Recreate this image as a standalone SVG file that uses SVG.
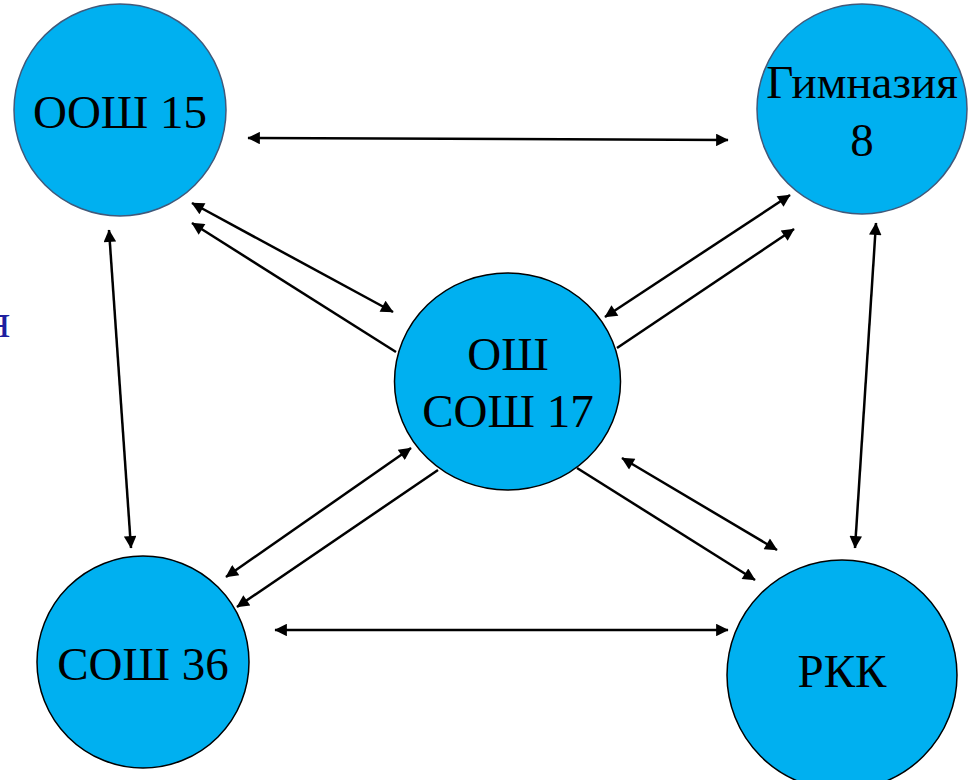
<svg xmlns="http://www.w3.org/2000/svg" width="968" height="780" viewBox="0 0 968 780">
<style>
.node{fill:#00b0f0;stroke:#000;stroke-width:1.5}
.node.blue{stroke:#41597a}
.lbl{font-family:"Liberation Serif","Times New Roman",serif;font-size:47px;fill:#000;text-anchor:middle}
.con line{stroke:#000;stroke-width:2.5;fill:none}
</style>
<defs>
<marker id="ah" viewBox="0 0 10 10" refX="9.5" refY="5" markerWidth="6" markerHeight="5" orient="auto-start-reverse" markerUnits="strokeWidth">
<path d="M0,0 L10,5 L0,10 Z" fill="#000"/>
</marker>
</defs>
<rect width="968" height="780" fill="#fff"/>
<text x="10" y="337" font-family="Liberation Serif, serif" font-size="48" fill="#1f1fa0" text-anchor="end">я</text>
<g class="con">
<line x1="248" y1="138" x2="728" y2="140" marker-start="url(#ah)" marker-end="url(#ah)"/>
<line x1="275" y1="630" x2="728" y2="630" marker-start="url(#ah)" marker-end="url(#ah)"/>
<line x1="109" y1="230" x2="131" y2="548" marker-start="url(#ah)" marker-end="url(#ah)"/>
<line x1="876" y1="223" x2="855" y2="548" marker-start="url(#ah)" marker-end="url(#ah)"/>
<line x1="192" y1="203" x2="393" y2="312" marker-start="url(#ah)" marker-end="url(#ah)"/>
<line x1="396" y1="352" x2="192" y2="223" marker-end="url(#ah)"/>
<line x1="790" y1="195" x2="605" y2="317" marker-start="url(#ah)" marker-end="url(#ah)"/>
<line x1="617" y1="348" x2="794" y2="229" marker-end="url(#ah)"/>
<line x1="411" y1="448" x2="226" y2="577" marker-start="url(#ah)" marker-end="url(#ah)"/>
<line x1="438" y1="470" x2="237" y2="607" marker-end="url(#ah)"/>
<line x1="622" y1="458" x2="777" y2="550" marker-start="url(#ah)" marker-end="url(#ah)"/>
<line x1="577" y1="468" x2="755" y2="580" marker-end="url(#ah)"/>
</g>
<g id="oosh15">
<circle class="node blue" cx="120" cy="110" r="106"/>
<text class="lbl" x="120" y="128">ООШ 15</text>
</g>
<g id="gimn8">
<circle class="node blue" cx="862" cy="109" r="105"/>
<text class="lbl" x="862" y="98">Гимназия</text>
<text class="lbl" x="862" y="156">8</text>
</g>
<g id="osh17">
<ellipse class="node" cx="507.5" cy="381.5" rx="113" ry="108.5"/>
<text class="lbl" x="508" y="370">ОШ</text>
<text class="lbl" x="508" y="427">СОШ 17</text>
</g>
<g id="sosh36">
<circle class="node" cx="143" cy="662" r="106"/>
<text class="lbl" x="143" y="680">СОШ 36</text>
</g>
<g id="rkk">
<circle class="node" cx="842" cy="675" r="115"/>
<text class="lbl" x="842" y="687">РКК</text>
</g>
</svg>
